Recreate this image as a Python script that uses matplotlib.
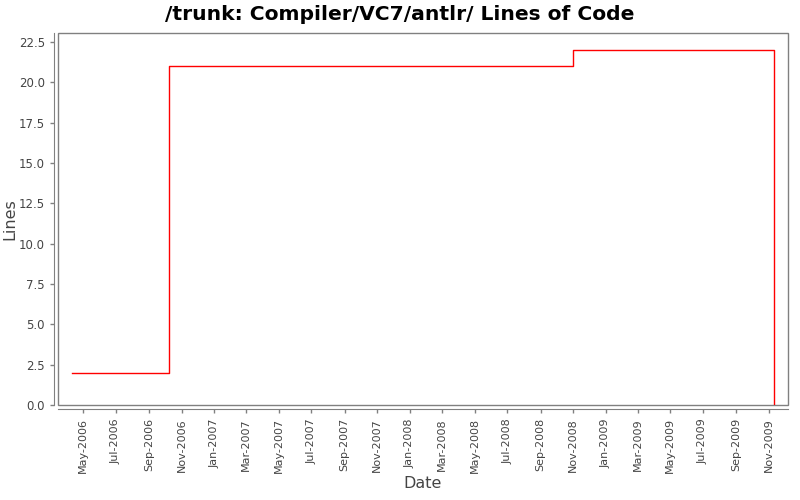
import matplotlib
matplotlib.use("Agg")
import matplotlib.pyplot as plt
import matplotlib.dates as mdates
from matplotlib.patches import Rectangle
import datetime as dt

# Data
dates = [dt.datetime(2006, 4, 10), dt.datetime(2006, 10, 9),
         dt.datetime(2008, 11, 1), dt.datetime(2009, 11, 10)]
lines = [2, 21, 22, 0]

title = "/trunk: Compiler/VC7/antlr/ Lines of Code"
xlabel = "Date"
ylabel = "Lines"

fig = plt.figure(figsize=(8, 5), dpi=100)
ax = fig.add_axes([58/800, 1 - 405/500, (788-58)/800, (405-33)/500])

ax.step(dates, lines, where="post", color="#ff0000", linewidth=1.0)

ax.set_xlim(dt.datetime(2006, 3, 15), dt.datetime(2009, 12, 7))
ax.set_ylim(0, 23.06)
ax.set_yticks([0, 2.5, 5, 7.5, 10, 12.5, 15, 17.5, 20, 22.5])
ax.yaxis.set_major_formatter(plt.FuncFormatter(lambda v, p: f"{v:.1f}"))

ax.xaxis.set_major_locator(mdates.MonthLocator(bymonth=[1, 3, 5, 7, 9, 11]))
ax.xaxis.set_major_formatter(mdates.DateFormatter("%b-%Y"))

gray = "#808080"
for s in ["top", "right"]:
    ax.spines[s].set_visible(False)
for s in ["left", "bottom"]:
    ax.spines[s].set_position(("outward", 2.9))
    ax.spines[s].set_color(gray)
ax.add_patch(Rectangle((0, 0), 1, 1, transform=ax.transAxes, fill=False,
                       edgecolor=gray, linewidth=1.0, clip_on=False))

ax.tick_params(axis="y", colors=gray, labelcolor="#444444", labelsize=8.5,
               length=3, width=1)
ax.tick_params(axis="x", colors=gray, labelcolor="#444444", labelsize=8,
               length=3, width=1, labelrotation=90)

ax.set_xlabel(xlabel, fontsize=11.5, color="#444444", labelpad=2)
ax.set_ylabel(ylabel, fontsize=11.5, color="#444444", labelpad=1)
fig.text(0.5, 1 - 14/500, title, fontsize=14.6, fontweight="bold",
         ha="center", va="center")

fig.savefig("out.png", dpi=100)
